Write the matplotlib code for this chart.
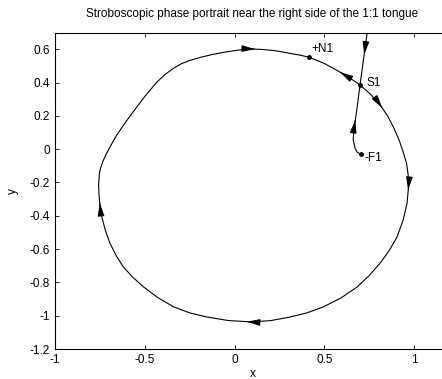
import numpy as np
import matplotlib
matplotlib.use("Agg")
import matplotlib.pyplot as plt

plt.rcParams['font.family'] = ['Liberation Sans', 'DejaVu Sans']
plt.rcParams['font.size'] = 8.5

# invariant closed curve (clockwise from the top)
orbit_x = [0.086, 0.150, 0.214, 0.262, 0.309, 0.363, 0.415, 0.498, 0.571, 0.637,
           0.699, 0.758, 0.811, 0.852, 0.886, 0.916, 0.939, 0.958, 0.967, 0.968,
           0.961, 0.939, 0.905, 0.862, 0.811, 0.750, 0.682, 0.592, 0.493, 0.403,
           0.309, 0.199, 0.086, -0.035, -0.153, -0.250, -0.341, -0.428, -0.508, -0.567,
           -0.620, -0.660, -0.694, -0.720, -0.739, -0.749, -0.755, -0.757, -0.754, -0.747,
           -0.734, -0.718, -0.698, -0.678, -0.656, -0.611, -0.564, -0.501, -0.434, -0.390,
           -0.345, -0.300, -0.252, -0.191, -0.126, -0.062, 0.003, 0.045]
orbit_y = [0.602, 0.599, 0.593, 0.585, 0.575, 0.565, 0.552, 0.516, 0.473, 0.431,
           0.386, 0.329, 0.265, 0.201, 0.130, 0.056, -0.017, -0.085, -0.155, -0.239,
           -0.323, -0.426, -0.527, -0.608, -0.684, -0.759, -0.828, -0.894, -0.948, -0.983,
           -1.008, -1.030, -1.037, -1.029, -1.008, -0.983, -0.946, -0.891, -0.826, -0.769,
           -0.706, -0.638, -0.565, -0.486, -0.407, -0.342, -0.275, -0.215, -0.158, -0.116,
           -0.076, -0.036, 0.004, 0.044, 0.085, 0.156, 0.225, 0.315, 0.401, 0.446,
           0.482, 0.511, 0.532, 0.551, 0.568, 0.581, 0.592, 0.598]

# stable manifold of the saddle: branch coming from above, branch leaving the focus
upper_x = [0.745, 0.699]
upper_y = [0.750, 0.386]
lower_x = [0.703, 0.682, 0.671, 0.661, 0.663, 0.668, 0.677, 0.688, 0.699]
lower_y = [-0.031, -0.017, 0.007, 0.055, 0.097, 0.145, 0.205, 0.295, 0.386]

# fixed points
pt_names = ['+N1', 'S1', '-F1']
pt_x = [0.415, 0.699, 0.703]
pt_y = [0.552, 0.386, -0.031]
pt_offsets = [(1.5, 6), (4.5, 1.5), (2.5, -3)]

# arrowheads: (segment, fraction along it, +1 forward / -1 backward)
orbit_arrows = [(0, 0.43, 1), (8, 0.25, -1), (12, 0.27, 1), (19, 0.07, 1), (32, 0.14, 1), (45, 0.28, 1)]
upper_arrows = [(0, 0.5, 1)]
lower_arrows = [(5, 0.5, 1)]


def add_arrows(ax, xs, ys, specs):
  for seg, frac, sgn in specs:
    x0, y0 = xs[seg], ys[seg]
    x1, y1 = xs[seg+1], ys[seg+1]
    tx = x0 + frac*(x1-x0)
    ty = y0 + frac*(y1-y0)
    dx = (x1-x0)*0.05*sgn
    dy = (y1-y0)*0.05*sgn
    ax.annotate("", xy=(tx, ty), xytext=(tx-dx, ty-dy),
                arrowprops=dict(arrowstyle="-|>,head_length=0.55,head_width=0.14",
                                mutation_scale=14, color="black", lw=0.8,
                                shrinkA=0, shrinkB=0))


fig = plt.figure(figsize=(4.42, 3.79), dpi=100, facecolor="white")
ax = fig.add_axes([55/442, 1-349/379, 395/442, (349-32.6)/379])

ox = orbit_x + orbit_x[:1]
oy = orbit_y + orbit_y[:1]
ax.plot(ox, oy, color="black", lw=0.8)
ax.plot(upper_x, upper_y, color="black", lw=0.8)
ax.plot(lower_x, lower_y, color="black", lw=0.8)
add_arrows(ax, ox, oy, orbit_arrows)
add_arrows(ax, upper_x, upper_y, upper_arrows)
add_arrows(ax, lower_x, lower_y, lower_arrows)

ax.plot(pt_x, pt_y, "o", color="black", ms=2.5)
for nm, px, py, off in zip(pt_names, pt_x, pt_y, pt_offsets):
  ax.annotate(nm, xy=(px, py), xytext=off, textcoords="offset points",
              ha="left", va="center")

ax.set_xlim(-1, 1.2)
ax.set_ylim(-1.2, 0.7)
ax.set_xticks([-1, -0.5, 0, 0.5, 1])
ax.set_xticklabels(["-1", "-0.5", "0", "0.5", "1"])
ax.set_yticks([-1.2, -1, -0.8, -0.6, -0.4, -0.2, 0, 0.2, 0.4, 0.6])
ax.set_yticklabels(["-1.2", "-1", "-0.8", "-0.6", "-0.4", "-0.2", "0", "0.2", "0.4", "0.6"])
ax.tick_params(direction="in", top=True, right=True, length=3, width=0.6, pad=3.5)
for sp in ax.spines.values():
  sp.set_linewidth(0.8)

ax.set_xlabel("x", labelpad=1.5)
ax.set_ylabel("y", labelpad=8)
ax.set_title("Stroboscopic phase portrait near the right side of the 1:1 tongue",
             fontsize=8.5, pad=11)

fig.savefig("out.png", dpi=100)
